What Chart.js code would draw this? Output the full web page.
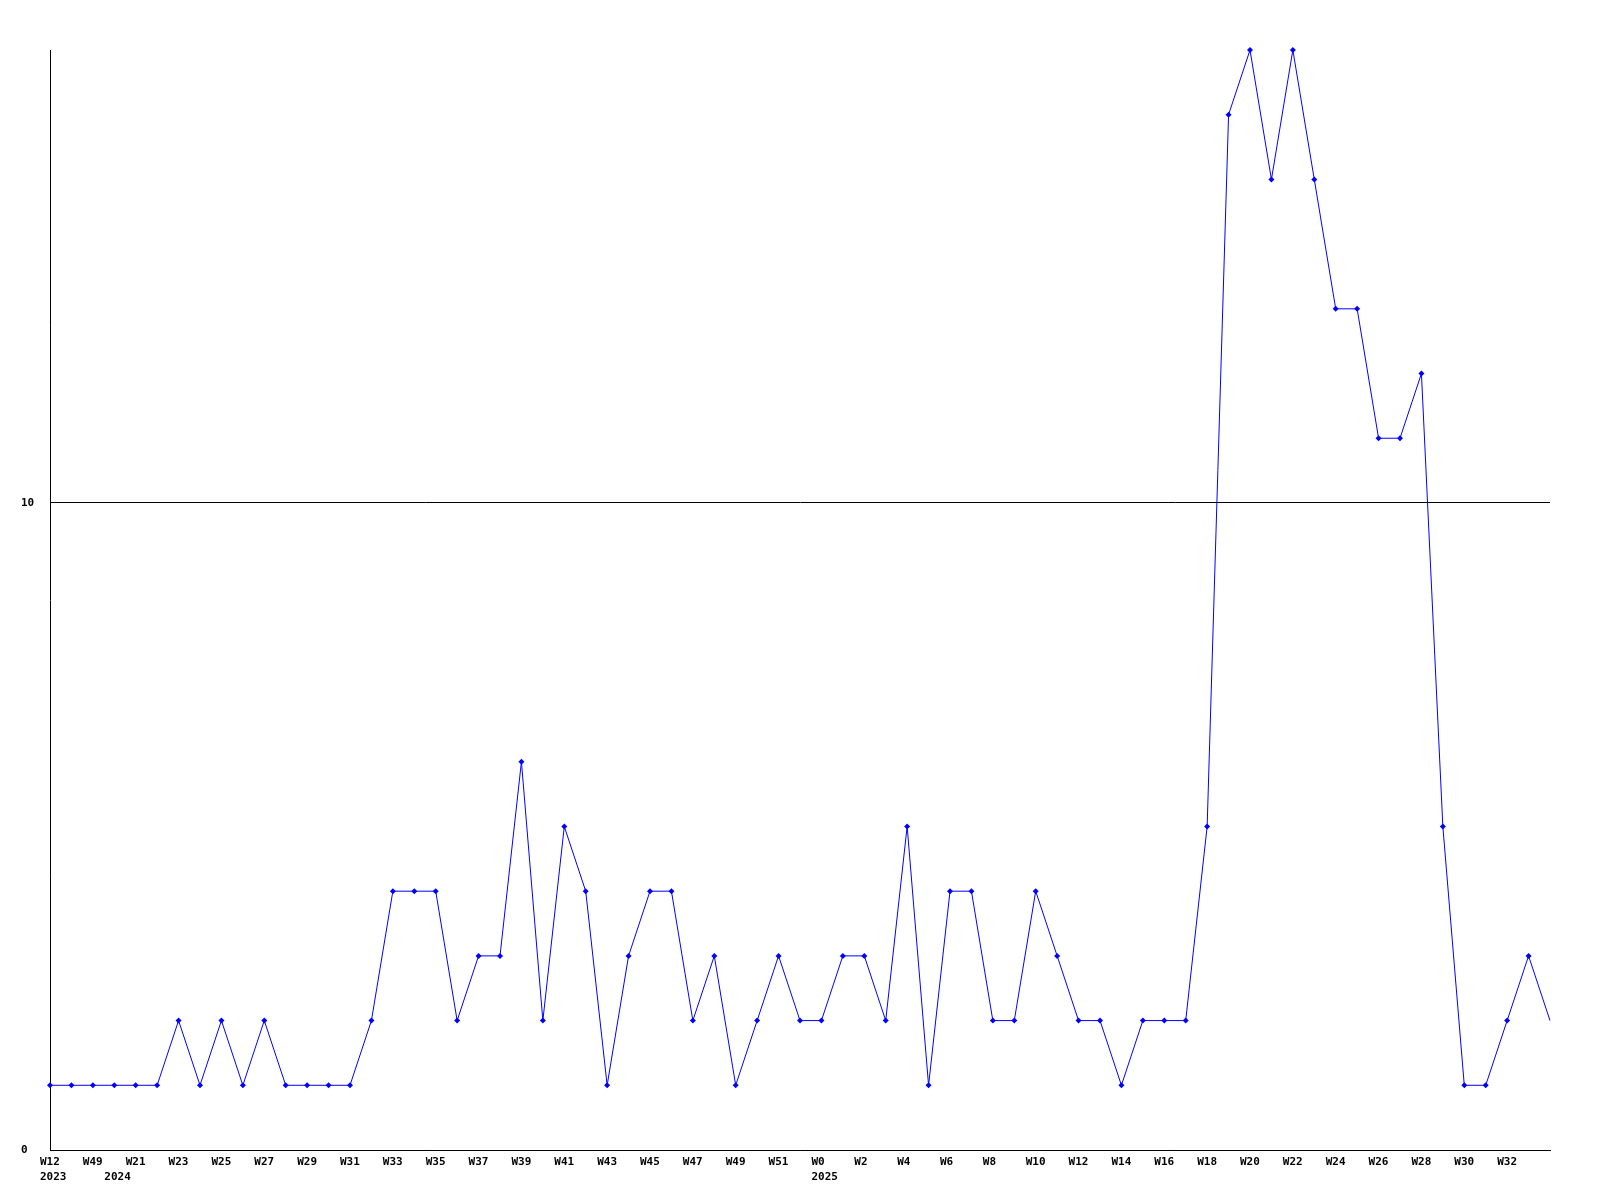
<!DOCTYPE html>
<html>
<head>
<meta charset="utf-8">
<style>
  body { margin: 0; background: #fff; }
  canvas { display: block; }
</style>
<script src="https://cdn.jsdelivr.net/npm/chart.js@4.4.0/dist/chart.umd.min.js"></script>
</head>
<body>
<canvas id="chart" width="1600" height="1200"></canvas>
<script>
// week tick labels, one per point (odd points carry no visible label)
const weekTicks = [
  'W12', '', 'W49', '', 'W21', '', 'W23', '', 'W25', '', 'W27', '', 'W29', '', 'W31', '',
  'W33', '', 'W35', '', 'W37', '', 'W39', '', 'W41', '', 'W43', '', 'W45', '', 'W47', '',
  'W49', '', 'W51', '', 'W0', '', 'W2', '', 'W4', '', 'W6', '', 'W8', '', 'W10', '',
  'W12', '', 'W14', '', 'W16', '', 'W18', '', 'W20', '', 'W22', '', 'W24', '', 'W26', '',
  'W28', '', 'W30', '', 'W32', '', ''
];

// year label shown under the first point of each year
const yearTicks = [
  '2023', '', '', '2024', '', '', '', '', '', '', '', '', '', '', '', '',
  '', '', '', '', '', '', '', '', '', '', '', '', '', '', '', '',
  '', '', '', '', '2025', '', '', '', '', '', '', '', '', '', '', '',
  '', '', '', '', '', '', '', '', '', '', '', '', '', '', '', '',
  '', '', '', '', '', '', ''
];

const counts = [
  1, 1, 1, 1, 1, 1, 2, 1, 2, 1, 2, 1, 1, 1, 1, 2,
  4, 4, 4, 2, 3, 3, 6, 2, 5, 4, 1, 3, 4, 4, 2, 3,
  1, 2, 3, 2, 2, 3, 3, 2, 5, 1, 4, 4, 2, 2, 4, 3,
  2, 2, 1, 2, 2, 2, 5, 16, 17, 15, 17, 15, 13, 13, 11, 11,
  12, 5, 1, 1, 2, 3, 2
];

const yMax = 17;
const monoFont = { family: '"DejaVu Sans Mono", monospace', size: 11, weight: 'bold', lineHeight: 1.4 };

// last point is still open, no marker on it
const radii = counts.map((v, i) => (i === counts.length - 1 ? 0 : 3));

new Chart(document.getElementById('chart').getContext('2d'), {
  type: 'line',
  data: {
    labels: weekTicks.map((w, i) => String(i)),
    datasets: [{
      data: counts,
      borderColor: '#0000ff',
      backgroundColor: '#0000ff',
      borderWidth: 1,
      tension: 0,
      pointStyle: 'rectRot',
      pointRadius: radii,
      pointBorderWidth: 0,
      pointHoverRadius: radii,
      clip: false,
      fill: false
    }]
  },
  options: {
    responsive: false,
    animation: false,
    layout: { padding: { left: 21, right: 50, top: 50, bottom: 0 } },
    plugins: { legend: { display: false }, tooltip: { enabled: false } },
    scales: {
      x: {
        offset: false,
        grid: { display: false, drawTicks: false },
        border: { display: true, color: '#000', width: 1 },
        ticks: {
          autoSkip: false,
          maxRotation: 0,
          minRotation: 0,
          align: 'start',
          labelOffset: -10,
          padding: 4,
          color: '#000',
          font: monoFont,
          callback: (value, i) => (yearTicks[i] ? [weekTicks[i], yearTicks[i]] : weekTicks[i])
        },
        afterFit: s => { s.height = 50; }
      },
      y: {
        min: 0,
        max: yMax,
        grid: { color: '#000', lineWidth: 1, drawTicks: false },
        border: { display: true, color: '#000', width: 1 },
        ticks: {
          stepSize: 10,
          includeBounds: false,
          crossAlign: 'far',
          padding: 4,
          color: '#000',
          font: monoFont
        },
        afterFit: s => { s.width = 29; }
      }
    }
  }
});
</script>
</body>
</html>
